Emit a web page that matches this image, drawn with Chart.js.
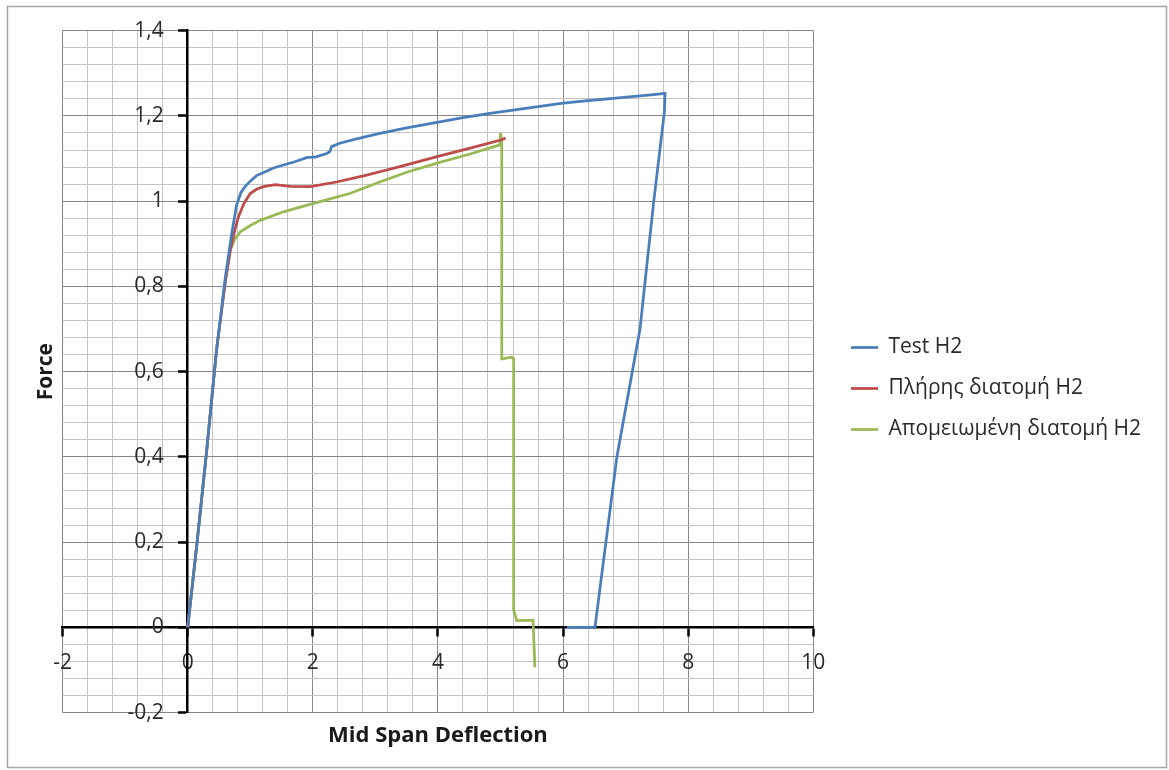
<!DOCTYPE html>
<html><head><meta charset="utf-8">
<script src="https://cdn.jsdelivr.net/npm/chart.js@4.4.1/dist/chart.umd.min.js"></script>
<style>html,body{margin:0;padding:0;background:#fff}#wrap{position:relative;width:1169px;height:770px}</style>
</head><body><div id="wrap"><canvas id="c" width="1169" height="770"></canvas></div>
<script>
// ---- data ----
const seriesNames = ['Test H2', 'Πλήρης διατομή H2', 'Απομειωμένη διατομή H2'];
const seriesColors = ['#4a7ebb', '#be4b48', '#98b954'];

const testX = [0, 0.15, 0.3, 0.46, 0.6, 0.7, 0.78, 0.85, 0.92, 1.0, 1.1, 1.24, 1.37, 1.53, 1.7, 1.9, 2.05, 2.22, 2.27, 2.30, 2.43, 2.7, 3.07, 3.5, 4.03, 4.4, 4.83, 5.4, 6.0, 6.4, 6.8, 7.23, 7.45, 7.63, 7.62, 7.45, 7.31, 7.23, 6.86, 6.51, 6.06];
const testY = [0, 0.2, 0.41, 0.65, 0.82, 0.92, 0.99, 1.02, 1.035, 1.047, 1.06, 1.069, 1.078, 1.085, 1.092, 1.102, 1.104, 1.112, 1.116, 1.128, 1.136, 1.146, 1.159, 1.172, 1.186, 1.196, 1.206, 1.218, 1.23, 1.236, 1.241, 1.247, 1.25, 1.253, 1.21, 1.0, 0.81, 0.70, 0.40, 0, 0];

const fullX = [0, 0.15, 0.3, 0.46, 0.6, 0.68, 0.75, 0.81, 0.9, 1.0, 1.1, 1.21, 1.4, 1.64, 1.96, 2.38, 2.86, 3.07, 3.39, 4.0, 4.5, 4.99, 5.08];
const fullY = [0, 0.2, 0.41, 0.65, 0.81, 0.885, 0.93, 0.963, 0.995, 1.018, 1.028, 1.034, 1.039, 1.035, 1.034, 1.045, 1.061, 1.069, 1.081, 1.105, 1.124, 1.143, 1.148];

const reducedX = [0, 0.15, 0.3, 0.46, 0.6, 0.68, 0.75, 0.84, 1.0, 1.16, 1.53, 2.01, 2.59, 3.07, 3.5, 4.0, 4.5, 4.99, 5.0, 5.02, 5.02, 5.18, 5.21, 5.21, 5.26, 5.52, 5.55];
const reducedY = [0, 0.2, 0.41, 0.65, 0.81, 0.885, 0.91, 0.928, 0.943, 0.955, 0.975, 0.995, 1.018, 1.045, 1.068, 1.09, 1.11, 1.132, 1.16, 1.14, 0.63, 0.634, 0.63, 0.04, 0.016, 0.017, -0.094];

const xMajorValues = [-2, 0, 2, 4, 6, 8, 10];
const xTickLabels = ['-2', '0', '2', '4', '6', '8', '10'];
const yMajorValues = [-0.2, 0, 0.2, 0.4, 0.6, 0.8, 1, 1.2, 1.4];
const yTickLabels = ['-0,2', '0', '0,2', '0,4', '0,6', '0,8', '1', '1,2', '1,4'];
const xMinorStep = 0.4;
const yMinorStep = 0.04;
const xTitle = 'Mid Span Deflection';
const yTitle = 'Force';

// ---- helpers ----
function toPts(xs, ys) { return xs.map((x, i) => ({x: x, y: ys[i]})); }
function gridValues(min, max, step) {
  const out = []; const n = Math.round((max - min) / step);
  for (let i = 0; i <= n; i++) out.push(Math.round((min + i * step) * 1000) / 1000);
  return out;
}
function majorIndex(arr, v) { return arr.findIndex(m => Math.abs(m - v) < 1e-6); }

const xMin = xMajorValues[0], xMax = xMajorValues[xMajorValues.length - 1];
const yMin = yMajorValues[0], yMax = yMajorValues[yMajorValues.length - 1];
const MAJOR = '#868686', MINOR = '#c4c4c4';
const FONT = "'Open Sans', 'Noto Sans', sans-serif";
const TXT = '#2a2a2a';

const sets = [[testX, testY], [fullX, fullY], [reducedX, reducedY]].map((s, i) => ({
  label: seriesNames[i],
  data: toPts(s[0], s[1]),
  borderColor: seriesColors[i],
  backgroundColor: seriesColors[i],
  borderWidth: 2.75,
  showLine: true,
  pointRadius: 0,
  pointHoverRadius: 0,
  tension: 0,
  xAxisID: 'x',
  yAxisID: 'y'
}));

const frame = {
  id: 'frame',
  beforeDraw(chart) {
    const c = chart.ctx; c.save();
    c.fillStyle = '#fff'; c.fillRect(0, 0, chart.width, chart.height);
    c.strokeStyle = '#a6a6a6'; c.lineWidth = 1.5;
    c.strokeRect(7.5, 6.5, 1159, 761);
    c.restore();
  },
  afterLayout(chart) {
    const lg = chart.legend;
    if (lg) { lg.left = 831; lg.top = 317; lg.right = 1169; lg.bottom = 770; }
    const ys = chart.scales.y;
    if (ys && !ys._labelShift) {
      const orig = ys.drawLabels;
      ys.drawLabels = function (area) {
        const c = this.ctx; c.save(); c.translate(-24, 0);
        orig.call(this, area); c.restore();
      };
      ys._labelShift = true;
    }
  }
};

new Chart(document.getElementById('c'), {
  type: 'scatter',
  data: { datasets: sets },
  plugins: [frame],
  options: {
    responsive: false,
    animation: false,
    devicePixelRatio: 1,
    events: [],
    layout: { padding: { left: 29.4, top: 30.7, right: 355.7, bottom: 21 } },
    plugins: {
      tooltip: { enabled: false },
      legend: {
        display: true,
        position: 'chartArea',
        align: 'start',
        labels: {
          usePointStyle: true,
          pointStyle: 'line',
          pointStyleWidth: 27,
          padding: 20,
          color: TXT,
          font: { family: FONT, size: 21 },
          generateLabels(chart) {
            return chart.data.datasets.map((d, i) => ({
              text: d.label, strokeStyle: d.borderColor, fillStyle: d.borderColor,
              lineWidth: 2.75, pointStyle: 'line', datasetIndex: i, hidden: false, fontColor: TXT
            }));
          }
        }
      }
    },
    scales: {
      x: {
        type: 'linear', axis: 'x', min: xMin, max: xMax,
        position: { y: 0 },
        afterFit(s) { s.height = 0; },
        afterBuildTicks(s) { s.ticks = gridValues(xMin, xMax, xMinorStep).map(v => ({ value: v })); },
        grid: {
          color: c => majorIndex(xMajorValues, c.tick.value) >= 0 ? MAJOR : MINOR,
          tickColor: c => majorIndex(xMajorValues, c.tick.value) >= 0 ? '#000' : 'rgba(0,0,0,0)',
          tickLength: 8, tickWidth: 2.5, lineWidth: 1
        },
        border: { display: true, color: '#000', width: 2.5 },
        ticks: {
          autoSkip: false, maxRotation: 0, padding: 15, color: TXT,
          font: { family: FONT, size: 21 },
          callback(v) { const k = majorIndex(xMajorValues, v); return k >= 0 ? xTickLabels[k] : ''; }
        }
      },
      y: {
        type: 'linear', axis: 'y', min: yMin, max: yMax,
        position: { x: 0 },
        afterFit(s) { s.width = 0; },
        afterBuildTicks(s) { s.ticks = gridValues(yMin, yMax, yMinorStep).map(v => ({ value: v })); },
        grid: {
          color: c => majorIndex(yMajorValues, c.tick.value) >= 0 ? MAJOR : MINOR,
          tickColor: c => majorIndex(yMajorValues, c.tick.value) >= 0 ? '#000' : 'rgba(0,0,0,0)',
          tickLength: 8, tickWidth: 2.5, lineWidth: 1
        },
        border: { display: true, color: '#000', width: 2.5 },
        ticks: {
          autoSkip: false, padding: 14, color: TXT,
          font: { family: FONT, size: 21 },
          callback(v) { const k = majorIndex(yMajorValues, v); return k >= 0 ? yTickLabels[k] : ''; }
        }
      },
      xTitleAxis: {
        type: 'linear', axis: 'x', position: 'bottom', min: 0, max: 1,
        grid: { display: false, drawTicks: false }, border: { display: false },
        ticks: { display: false },
        title: { display: true, text: xTitle, color: '#1a1a1a', font: { family: FONT, size: 22, weight: 'bold' }, padding: { top: 10, bottom: 0 } }
      },
      yTitleAxis: {
        type: 'linear', axis: 'y', position: 'left', min: 0, max: 1,
        grid: { display: false, drawTicks: false }, border: { display: false },
        ticks: { display: false },
        title: { display: true, text: yTitle, color: '#1a1a1a', font: { family: FONT, size: 21, weight: 'bold' }, padding: { top: 4, bottom: 4 } }
      }
    }
  }
});
</script>
</body></html>
